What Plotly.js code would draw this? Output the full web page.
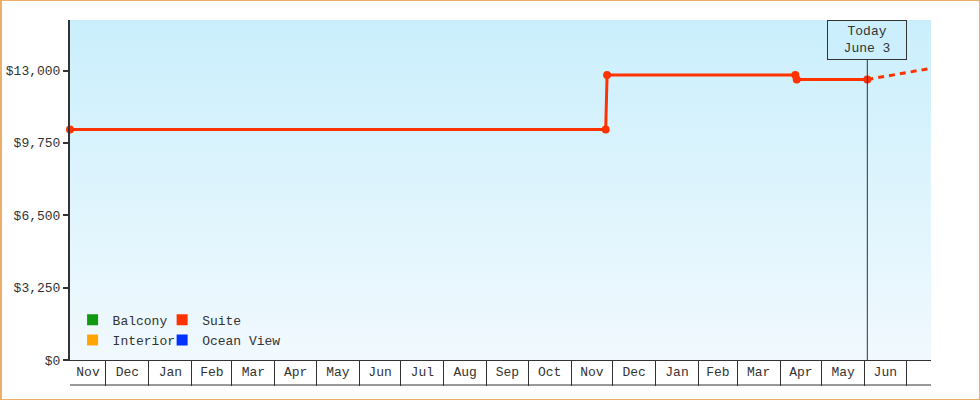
<!DOCTYPE html>
<html>
<head>
<meta charset="utf-8">
<script src="https://cdn.plot.ly/plotly-3.0.1.min.js"></script>
<style>
html,body{margin:0;padding:0;background:#fff;}
#wrap{position:relative;width:980px;height:400px;}
#chart{width:980px;height:400px;}
#frame{position:absolute;left:0;top:0;width:980px;height:400px;box-sizing:border-box;border:1px solid #ecae68;border-left-width:2px;pointer-events:none;}
</style>
</head>
<body>
<div id="wrap"><div id="chart"></div><div id="frame"></div></div>
<script>
// ---- data ----
var seriesNames = ['Balcony', 'Suite', 'Interior', 'Ocean View'];
var seriesColors = ['#119911', '#ff3300', '#ffa500', '#0033ff'];
var suiteDates = ['2023-11-05', '2024-11-26', '2024-11-27', '2025-04-12', '2025-04-13', '2025-06-03'];
var suitePrices = [10350, 10350, 12800, 12800, 12600, 12600];
var projectionDates = ['2025-06-03', '2025-07-19'];
var projectionPrices = [12600, 13100];
var todayDate = '2025-06-03';
var todayLabel = 'Today<br>June 3';
var xRange = ['2023-11-05', '2025-07-19'];
var yTickVals = [0, 3250, 6500, 9750, 13000];
var yTickText = ['$0', '$3,250', '$6,500', '$9,750', '$13,000'];
var monthStarts = ['2023-11-01','2023-12-01','2024-01-01','2024-02-01','2024-03-01','2024-04-01','2024-05-01','2024-06-01','2024-07-01','2024-08-01','2024-09-01','2024-10-01','2024-11-01','2024-12-01','2025-01-01','2025-02-01','2025-03-01','2025-04-01','2025-05-01','2025-06-01','2025-07-01'];
var monthLabels = ['Nov','Dec','Jan','Feb','Mar','Apr','May','Jun','Jul','Aug','Sep','Oct','Nov','Dec','Jan','Feb','Mar','Apr','May','Jun',''];

var FONT = 'Liberation Mono, DejaVu Sans Mono, monospace';
var INK = '#333333';

// label positions: centre of the visible part of each month cell
function ms(s) { var p = s.split('-'); return Date.UTC(+p[0], +p[1] - 1, +p[2]); }
var r0 = ms(xRange[0]), r1 = ms(xRange[1]);
var labelVals = [], labelText = [];
for (var m = 0; m < monthStarts.length; m++) {
  var a = Math.max(ms(monthStarts[m]), r0);
  var b = m + 1 < monthStarts.length ? Math.min(ms(monthStarts[m + 1]), r1) : r1;
  if (b > a && monthLabels[m]) { labelVals.push((a + b) / 2); labelText.push(monthLabels[m]); }
}

// gradient background image
var svg = '<svg xmlns="http://www.w3.org/2000/svg" width="10" height="100" preserveAspectRatio="none">' +
  '<defs><linearGradient id="g" x1="0" y1="0" x2="0" y2="1">' +
  '<stop offset="0" stop-color="#caeffc"/><stop offset="1" stop-color="#f1f9fe"/></linearGradient></defs>' +
  '<rect width="10" height="100" fill="url(#g)"/></svg>';
var bgUri = 'data:image/svg+xml;base64,' + btoa(svg);

var traces = [];
// legend entries (one legend box each, so they sit in a 2x2 grid)
var legendIds = ['legend', 'legend2', 'legend3', 'legend4'];
for (var i = 0; i < seriesNames.length; i++) {
  traces.push({
    type: 'scatter', mode: 'markers', x: [null], y: [null],
    name: seriesNames[i], legend: legendIds[i],
    marker: {symbol: 'square', size: 11, color: seriesColors[i]},
    hoverinfo: 'skip'
  });
}
// suite price history
traces.push({
  type: 'scatter', mode: 'lines+markers', x: suiteDates, y: suitePrices,
  name: 'Suite', showlegend: false, cliponaxis: false,
  line: {color: seriesColors[1], width: 3},
  marker: {color: seriesColors[1], size: 8}
});
// projection
traces.push({
  type: 'scatter', mode: 'lines', x: projectionDates, y: projectionPrices,
  name: 'Suite projection', showlegend: false,
  line: {color: seriesColors[1], width: 3, dash: '6px,5px'}
});
// invisible trace to carry the label axis
traces.push({type: 'scatter', mode: 'markers', x: [null], y: [null], xaxis: 'x2', showlegend: false, hoverinfo: 'skip'});

function legendBox(x, y) {
  return {
    orientation: 'h', x: x, xanchor: 'left', y: y, yanchor: 'middle',
    bgcolor: 'rgba(0,0,0,0)', borderwidth: 0, itemwidth: 30,
    font: {family: FONT, size: 13, color: INK},
    itemclick: false, itemdoubleclick: false
  };
}

var layout = {
  width: 980, height: 400,
  margin: {l: 70, r: 49, t: 20, b: 40},
  paper_bgcolor: '#ffffff',
  plot_bgcolor: 'rgba(0,0,0,0)',
  font: {family: FONT, size: 13, color: INK},
  showlegend: true,
  images: [{source: bgUri, xref: 'paper', yref: 'paper', x: 0, y: 1, sizex: 1, sizey: 1,
            xanchor: 'left', yanchor: 'top', sizing: 'stretch', layer: 'below'}],
  xaxis: {
    type: 'date', range: xRange,
    tickmode: 'array', tickvals: monthStarts, showticklabels: false,
    ticks: 'outside', ticklen: 25, tickwidth: 1, tickcolor: INK,
    showgrid: false, zeroline: false,
    showline: true, linecolor: INK, linewidth: 1
  },
  xaxis2: {
    type: 'date', range: xRange, overlaying: 'x', anchor: 'y', side: 'bottom',
    tickmode: 'array', tickvals: labelVals, ticktext: labelText,
    ticks: '', showgrid: false, zeroline: false, showline: false,
    ticklabelstandoff: 2,
    tickfont: {family: FONT, size: 13, color: INK}
  },
  yaxis: {
    range: [0, 15270],
    tickmode: 'array', tickvals: yTickVals, ticktext: yTickText,
    ticks: 'outside', ticklen: 5, tickwidth: 2, tickcolor: INK,
    showgrid: false, zeroline: false,
    showline: true, linecolor: INK, linewidth: 2,
    tickfont: {family: FONT, size: 13, color: INK}
  },
  legend: legendBox(0.003, 0.118),
  legend2: legendBox(0.107, 0.118),
  legend3: legendBox(0.003, 0.059),
  legend4: legendBox(0.107, 0.059),
  shapes: [
    {type: 'line', xref: 'x', yref: 'paper', x0: todayDate, x1: todayDate, y0: 0, y1: 1,
     line: {color: INK, width: 1}, layer: 'above'},
    {type: 'line', xref: 'paper', yref: 'paper', x0: 0, x1: 1, y0: -25/340, y1: -25/340,
     line: {color: INK, width: 1}}
  ],
  annotations: [
    {xref: 'x', yref: 'paper', x: todayDate, y: 1, xanchor: 'center', yanchor: 'top',
     text: todayLabel, showarrow: false, align: 'center',
     width: 78, height: 38, borderpad: 0, borderwidth: 1, bordercolor: INK, bgcolor: '#cbeffc',
     font: {family: FONT, size: 13, color: INK}}
  ]
};

Plotly.newPlot('chart', traces, layout, {displayModeBar: false, staticPlot: true});
</script>
</body>
</html>
